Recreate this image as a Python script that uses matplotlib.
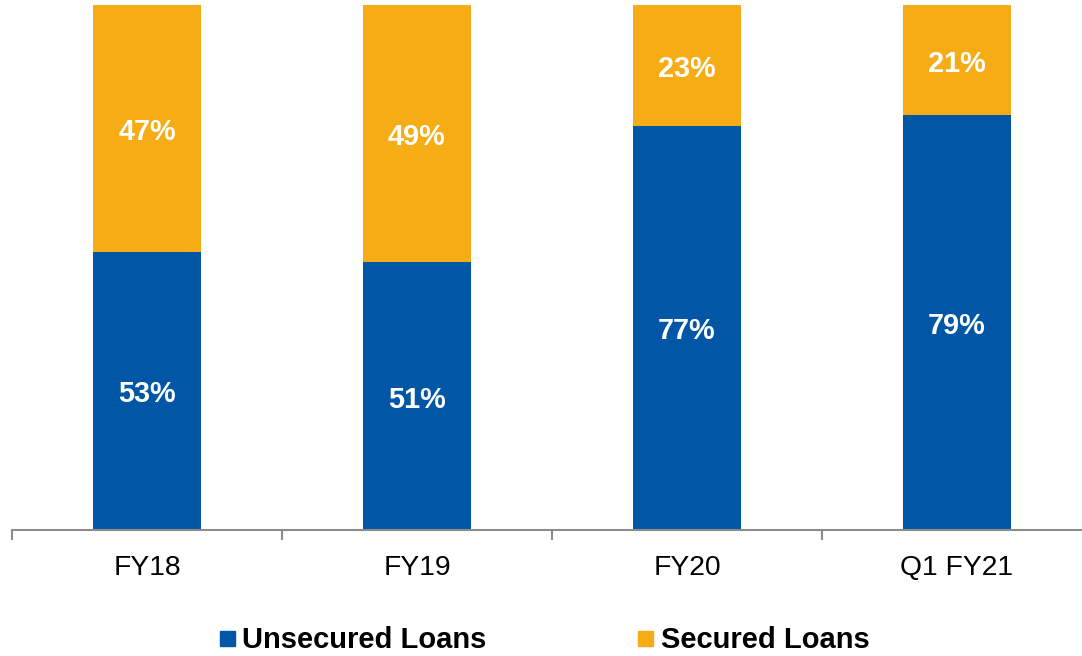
import numpy as np
import matplotlib
matplotlib.use("Agg")
import matplotlib.pyplot as plt
from matplotlib.lines import Line2D

categories = ["FY18", "FY19", "FY20", "Q1 FY21"]
unsecured = [53, 51, 77, 79]
secured = [47, 49, 23, 21]

BLUE = "#0156A6"
ORANGE = "#F6AC15"

plt.rcParams["font.family"] = ["Liberation Sans", "DejaVu Sans"]

fig = plt.figure(figsize=(10.82, 6.56), dpi=100)
ax = fig.add_axes([12 / 1082, 126 / 656, 1070 / 1082, 525 / 656])

x = np.arange(len(categories))
w = 0.4
ax.bar(x, unsecured, width=w, color=BLUE, zorder=2)
ax.bar(x, secured, width=w, bottom=unsecured, color=ORANGE, zorder=2)

# segment labels, nudged down a touch to sit optically centred
for xi, u, s in zip(x, unsecured, secured):
    for yc, val in [(u / 2, u), (u + s / 2, s)]:
        ax.annotate(f"{val}%", (xi, yc), xytext=(0, -2.5),
                    textcoords="offset points", ha="center", va="center",
                    color="white", fontsize=20.8, fontweight="bold")

ax.set_xlim(-0.5, 3.463)
ax.set_ylim(0, 100)
for side in ["top", "right", "left"]:
    ax.spines[side].set_visible(False)
ax.spines["bottom"].set_color("#8c8c8c")
ax.spines["bottom"].set_linewidth(1.5)
ax.set_yticks([])

# category boundary ticks, labels centred under bars
ax.set_xticks(np.arange(-0.5, 3.0, 1.0))
ax.set_xticklabels([])
ax.tick_params(axis="x", which="major", length=7, width=1.5, color="#8c8c8c")
ax.set_xticks(x, minor=True)
ax.set_xticklabels(categories, minor=True, fontsize=20.3)
ax.tick_params(axis="x", which="minor", length=0, pad=18)

handles = [
    Line2D([], [], marker="s", ls="none", color=BLUE, markersize=10.8),
    Line2D([], [], marker="s", ls="none", color=ORANGE, markersize=10.8),
]
leg = fig.legend(handles, ["Unsecured Loans", "Secured Loans"], ncol=2,
                 loc="center", bbox_to_anchor=(544.5 / 1082, 16 / 656),
                 frameon=False, handlelength=0.5, handletextpad=0.28,
                 columnspacing=5.2, borderpad=0, borderaxespad=0,
                 prop={"size": 21, "weight": "bold"})

fig.savefig("out.png", dpi=100)
